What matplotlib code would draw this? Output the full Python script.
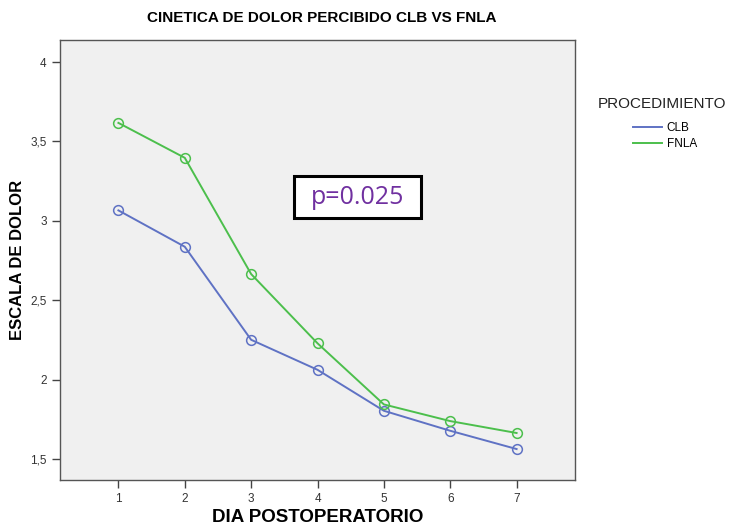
import matplotlib
matplotlib.use("Agg")
import matplotlib.pyplot as plt
from matplotlib.patches import Rectangle
from matplotlib.ticker import FuncFormatter

days = [1, 2, 3, 4, 5, 6, 7]
clb = [3.066, 2.837, 2.251, 2.062, 1.804, 1.678, 1.563]
fnla = [3.617, 3.397, 2.665, 2.229, 1.844, 1.739, 1.664]
series_names = ["CLB", "FNLA"]
y_ticks = [1.5, 2, 2.5, 3, 3.5, 4]

plt.rcParams['font.family'] = ['Liberation Sans', 'DejaVu Sans']

fig = plt.figure(figsize=(7.35, 5.27), dpi=100)
ax = fig.add_axes([60/735, 47/527, 515/735, 440/527])
ax.set_facecolor("#f0f0f0")

c_clb = "#5f72c4"
c_fnla = "#4cbf4c"
ax.plot(days, clb, color=c_clb, lw=1.4, marker="o", ms=7, mfc="none", mec=c_clb, mew=1.1, label=series_names[0])
ax.plot(days, fnla, color=c_fnla, lw=1.4, marker="o", ms=7, mfc="none", mec=c_fnla, mew=1.1, label=series_names[1])

ax.set_xlim(0.12, 7.88)
ax.set_ylim(1.368, 4.139)
ax.set_xticks(days)
ax.set_yticks(y_ticks)
ax.yaxis.set_major_formatter(FuncFormatter(lambda v, p: ("%g" % v).replace(".", ",")))
ax.tick_params(axis="both", direction="out", length=6, width=1, color="#444444", labelsize=8.5, labelcolor="#333333")
for s in ["left", "bottom", "top", "right"]:
    ax.spines[s].set_color("#555555")
    ax.spines[s].set_linewidth(1)

ax.set_xlabel("DIA POSTOPERATORIO", fontsize=13.5, fontweight="bold")
ax.xaxis.set_label_coords((318 - 60) / 515, -(517 - 480) / 440)
ax.xaxis.label.set_va("center")
ax.set_ylabel("ESCALA DE DOLOR", fontsize=12, fontweight="bold")
ax.yaxis.set_label_coords((18 - 60) / 515, 0.5)
ax.yaxis.label.set_va("center")
fig.text((147 + 497) / 2 / 735, 1 - 18/527, "CINETICA DE DOLOR PERCIBIDO CLB VS FNLA",
         ha="center", va="center", fontsize=11, fontweight="bold")

fig.text(598/735, 1 - 104/527, "PROCEDIMIENTO", fontsize=11, color="#222222", va="center")
leg = ax.legend(loc="upper left", bbox_to_anchor=(633/735, 1 - 122/527), bbox_transform=fig.transFigure,
                frameon=False, fontsize=8.5, handlelength=2.45, handletextpad=0.4, labelspacing=0.35,
                borderpad=0, borderaxespad=0, markerscale=0)
for h in leg.get_lines():
    h.set_marker("")

fig.patches.append(Rectangle((294/735, 1 - 218/527), 127/735, 42/527, transform=fig.transFigure,
                             facecolor="white", edgecolor="black", linewidth=2.2, zorder=5))
fig.text((294 + 421) / 2 / 735, 1 - 198/527, "p=0.025", ha="center", va="center", fontsize=18,
         color="#7030a0", family=["Open Sans", "DejaVu Sans"], zorder=6)

fig.savefig("out.png", dpi=100)
